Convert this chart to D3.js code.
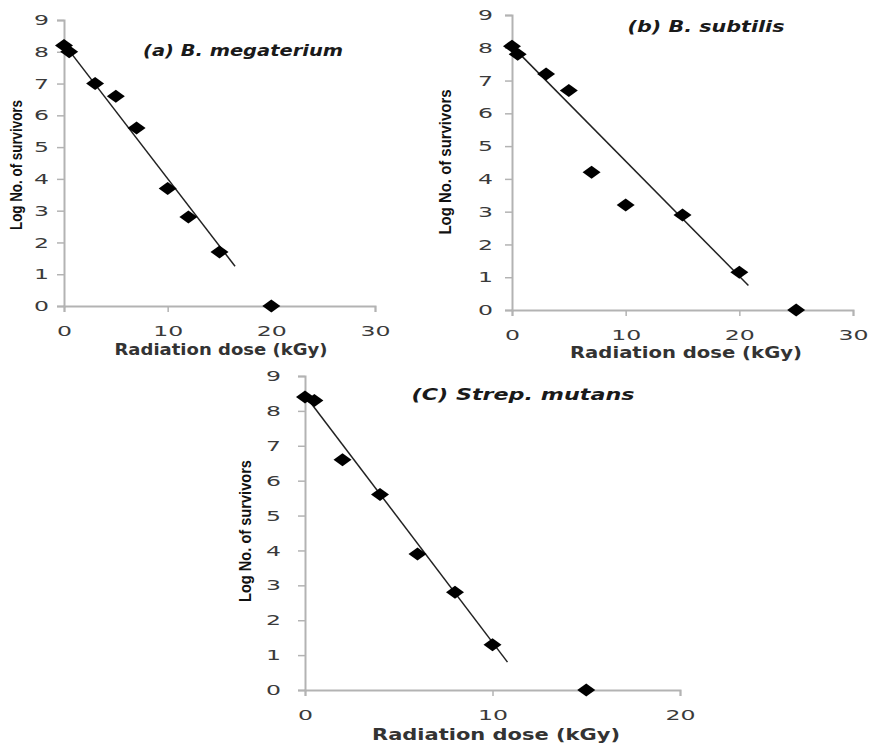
<!DOCTYPE html>
<html><head><meta charset="utf-8">
<script src="https://cdn.jsdelivr.net/npm/d3@7"></script>
<style>body{margin:0;background:#fff}svg{display:block}</style>
</head><body>
<script>
// ---- data ----
const doseA = [0, 0.5, 3, 5, 7, 10, 12, 15, 20];
const logA  = [8.2, 8.0, 7.0, 6.6, 5.6, 3.7, 2.8, 1.7, 0];
const trendA = [[0, 8.25], [16.5, 1.25]];

const doseB = [0, 0.5, 3, 5, 7, 10, 15, 20, 25];
const logB  = [8.05, 7.8, 7.2, 6.7, 4.2, 3.2, 2.9, 1.15, 0];
const trendB = [[0, 8.05], [20.8, 0.75]];

const doseC = [0, 0.5, 2, 4, 6, 8, 10, 15];
const logC  = [8.4, 8.3, 6.6, 5.6, 3.9, 2.8, 1.3, 0];
const trendC = [[0, 8.45], [10.8, 0.8]];

const yTicks = [0, 1, 2, 3, 4, 5, 6, 7, 8, 9];
const xTicksAB = [0, 10, 20, 30];
const xTicksC = [0, 10, 20];
const titles = ["(a) B. megaterium", "(b) B. subtilis", "(C) Strep. mutans"];
const xTitle = "Radiation dose (kGy)";
const yTitle = "Log No. of survivors";

// ---- layout ----
const panels = [
  {dose: doseA, log: logA, trend: trendA, xMax: 30, xTicks: xTicksAB, title: titles[0],
   xr: [64, 375], yr: [306, 20], yGap: 15,
   tt: {x: 243, y: 56, len: 200}, xt: {x: 221, y: 355, len: 213}, yt: {x: 16, y: 165, len: 130}},
  {dose: doseB, log: logB, trend: trendB, xMax: 30, xTicks: xTicksAB, title: titles[1],
   xr: [512, 853], yr: [310, 15], yGap: 19,
   tt: {x: 706, y: 32, len: 157}, xt: {x: 686, y: 358, len: 232}, yt: {x: 445, y: 162, len: 145}},
  {dose: doseC, log: logC, trend: trendC, xMax: 20, xTicks: xTicksC, title: titles[2],
   xr: [305, 680], yr: [690, 376], yGap: 24,
   tt: {x: 523, y: 400, len: 223}, xt: {x: 496, y: 740, len: 248}, yt: {x: 245, y: 531, len: 142}}
];

const svg = d3.select("body").append("svg").attr("width", 874).attr("height", 745);

panels.forEach(p => {
  const x = d3.scaleLinear().domain([0, p.xMax]).range(p.xr);
  const y = d3.scaleLinear().domain([0, 9]).range(p.yr);
  const g = svg.append("g");

  const ya = g.append("g").attr("transform", `translate(${p.xr[0]},0)`)
    .call(d3.axisLeft(y).tickValues(yTicks).tickSize(7).tickPadding(p.yGap - 7).tickFormat(d3.format("d")));
  const xa = g.append("g").attr("transform", `translate(0,${p.yr[0]})`)
    .call(d3.axisBottom(x).tickValues(p.xTicks).tickSize(6).tickPadding(14).tickFormat(d3.format("d")));
  [ya, xa].forEach(a => {
    a.select(".domain").attr("stroke", "#b3b3b3").attr("stroke-width", 2);
    a.selectAll(".tick line").attr("stroke", "#b3b3b3").attr("stroke-width", 1.5);
    a.selectAll(".tick text").attr("fill", "#3a3a3a").attr("font-family", "DejaVu Sans")
      .attr("font-size", 14.5)
      .attr("textLength", function() { return this.textContent.length * 15; })
      .attr("lengthAdjust", "spacingAndGlyphs");
  });

  // trend line
  g.append("path")
    .attr("d", d3.line().x(d => x(d[0])).y(d => y(d[1]))(p.trend))
    .attr("fill", "none").attr("stroke", "#222").attr("stroke-width", 1.5);

  // diamonds
  const pts = p.dose.map((d, i) => [d, p.log[i]]);
  g.selectAll("path.pt").data(pts).join("path").attr("class", "pt")
    .attr("d", "M-9,0L0,-6.5L9,0L0,6.5Z")
    .attr("transform", d => `translate(${x(d[0])},${y(d[1])})`)
    .attr("fill", "#000");

  // titles
  g.append("text").attr("x", p.tt.x).attr("y", p.tt.y).attr("text-anchor", "middle")
    .attr("font-family", "DejaVu Sans").attr("font-weight", "bold").attr("font-style", "italic")
    .attr("font-size", 15).attr("fill", "#1a1a1a")
    .attr("textLength", p.tt.len).attr("lengthAdjust", "spacingAndGlyphs").text(p.title);

  g.append("text").attr("x", p.xt.x).attr("y", p.xt.y).attr("text-anchor", "middle")
    .attr("font-family", "DejaVu Sans").attr("font-weight", "bold")
    .attr("font-size", 15.5).attr("fill", "#333")
    .attr("textLength", p.xt.len).attr("lengthAdjust", "spacingAndGlyphs").text(xTitle);

  g.append("text").attr("transform", `translate(${p.yt.x + 6},${p.yt.y}) rotate(-90)`)
    .attr("text-anchor", "middle")
    .attr("font-family", "Liberation Sans Narrow, Liberation Sans").attr("font-weight", "bold")
    .attr("font-size", 17).attr("fill", "#111")
    .attr("textLength", p.yt.len).attr("lengthAdjust", "spacingAndGlyphs").text(yTitle);
});
</script>
</body></html>
